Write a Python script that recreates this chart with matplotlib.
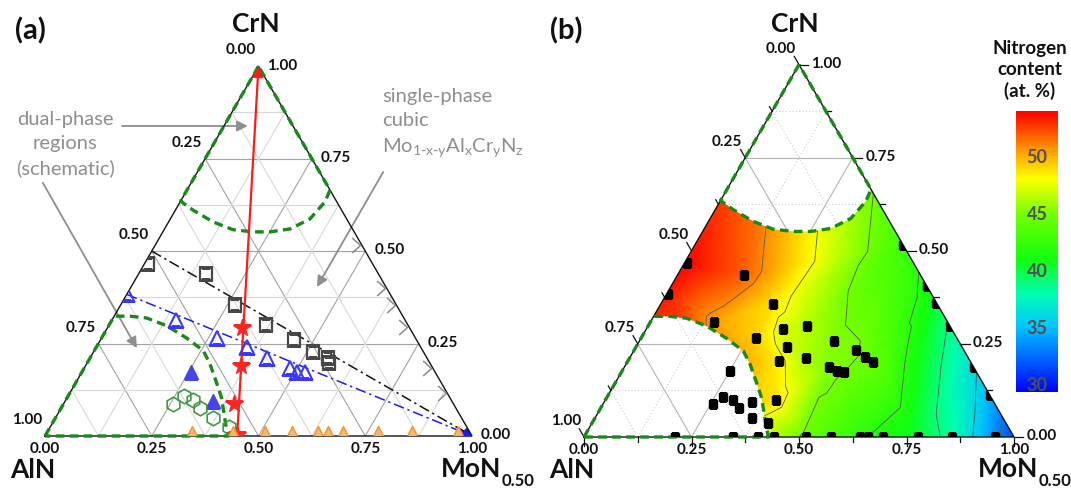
"""Mo-Al-Cr-N ternary maps: (a) sample compositions, (b) nitrogen content."""

import numpy as np
import matplotlib

matplotlib.use("Agg")

import matplotlib.pyplot as plt
import matplotlib.tri as mtri
from matplotlib.colors import LinearSegmentedColormap, Normalize
from matplotlib.patches import Polygon
from matplotlib.path import Path

plt.rcParams["font.family"] = ["Lato", "DejaVu Sans"]

W_PX, H_PX = 1071, 488
H3 = np.sqrt(3) / 2

GREEN = "#178a17"
GREY_TXT = "#8e8e8e"
DARK = "#111111"

# ---------------------------------------------------------------- panel (a)
# compositions as (MoN fraction, CrN fraction); AlN is the rest
SQUARE_MO = [0.008, 0.159, 0.268, 0.368, 0.453, 0.514, 0.557, 0.566]
SQUARE_CR = [0.466, 0.437, 0.354, 0.300, 0.260, 0.228, 0.212, 0.198]
OPEN_TRI_MO = [0.0, 0.150, 0.270, 0.353, 0.414, 0.481, 0.503, 0.522]
OPEN_TRI_CR = [0.383, 0.314, 0.265, 0.241, 0.212, 0.185, 0.174, 0.174]
FILLED_TRI_MO = [0.255, 0.346]
FILLED_TRI_CR = [0.174, 0.094]
HEX_MO = [0.257, 0.272, 0.298, 0.325, 0.369, 0.419]
HEX_CR = [0.086, 0.107, 0.097, 0.075, 0.048, 0.024]
STAR_MO = [0.315, 0.364, 0.400, 0.448]
STAR_CR = [0.292, 0.190, 0.086, 0.003]
ORANGE_MO = [0.344, 0.440, 0.515, 0.578, 0.639, 0.663, 0.698, 0.780, 0.859, 0.967]
CHEVRON_CR = [0.516, 0.400, 0.354, 0.295, 0.184, 0.116]

BLACK_LINE_MO = [0.0, 1.0]
BLACK_LINE_CR = [0.5, 0.0]
BLUE_LINE_MO = [0.0, 1.0]
BLUE_LINE_CR = [0.383, 0.0]
RED_LINE_MO = [0.45, 0.0]
RED_LINE_CR = [0.0, 1.0]

# schematic dual-phase boundaries
CAP_MO = [0.0, 0.041, 0.104, 0.161, 0.211, 0.251, 0.294, 0.327, 0.339, 0.335]
CAP_CR = [0.635, 0.611, 0.579, 0.558, 0.552, 0.552, 0.560, 0.587, 0.633, 0.665]
LOW_MO = [0.0, 0.037, 0.079, 0.136, 0.199, 0.255, 0.288, 0.325, 0.359, 0.387, 0.409, 0.429]
LOW_CR = [0.324, 0.324, 0.319, 0.298, 0.265, 0.231, 0.196, 0.150, 0.107, 0.064, 0.029, 0.0]

# ---------------------------------------------------------------- panel (b)
N_MO = [
    0.006, 0.003, 0.154, 0.262, 0.147, 0.317, 0.268, 0.352, 0.352, 0.369,
    0.411, 0.453, 0.516, 0.546, 0.572, 0.476, 0.500, 0.518, 0.397, 0.409,
    0.252, 0.270, 0.297, 0.256, 0.321, 0.344, 0.366,
    0.484, 0.594, 0.639, 0.701, 0.813, 0.888,
    0.212, 0.347, 0.405, 0.442, 0.516, 0.574, 0.642, 0.660, 0.695, 0.777,
    0.856, 0.956,
]
N_CR = [
    0.468, 0.385, 0.436, 0.356, 0.310, 0.291, 0.265, 0.241, 0.203, 0.299,
    0.211, 0.257, 0.233, 0.214, 0.201, 0.187, 0.176, 0.174, 0.099, 0.037,
    0.176, 0.107, 0.099, 0.088, 0.078, 0.094, 0.051,
    0.516, 0.406, 0.361, 0.299, 0.187, 0.112,
    0.0, 0.0, 0.0, 0.0, 0.0, 0.0, 0.0, 0.0, 0.0, 0.0,
    0.0, 0.0,
]
N_VALUE = [
    54.0, 53.5, 52.0, 48.8, 50.5, 47.3, 49.3, 47.2, 48.5, 46.5,
    46.3, 45.4, 45.2, 44.8, 44.6, 45.3, 45.2, 45.0, 48.8, 47.3,
    51.0, 50.5, 50.0, 50.5, 49.5, 49.5, 48.5,
    43.0, 41.5, 40.3, 38.8, 36.3, 34.5,
    50.5, 49.5, 48.5, 46.8, 44.6, 43.5, 42.3, 42.0, 41.5, 40.3,
    38.3, 33.5,
]
# corner values (AlN, MoN, CrN) used to close the triangulation
CORNER_MO = [0.0, 1.0, 0.0]
CORNER_CR = [0.0, 0.0, 1.0]
CORNER_VALUE = [51.0, 31.5, 50.0]

N_LEVELS = [33, 36, 39, 42, 45, 48, 51]
N_RANGE = (29.4, 54.1)
CBAR_TICKS = [30, 35, 40, 45, 50]
AXIS_TICKS = [0.0, 0.25, 0.5, 0.75, 1.0]

N_CMAP = LinearSegmentedColormap.from_list(
    "nitrogen",
    [
        (0.0, "#0000ff"),
        (0.23, "#00c4ff"),
        (0.35, "#00ffb0"),
        (0.47, "#10ff10"),
        (0.63, "#70ff00"),
        (0.76, "#ffff00"),
        (0.86, "#ff9c00"),
        (1.0, "#ff0000"),
    ],
)


def to_xy(mo, cr):
    mo = np.asarray(mo, dtype=float)
    cr = np.asarray(cr, dtype=float)
    return mo + cr / 2, cr * H3


def setup_panel(fig, left_px, right_px, origin_px, base_py, side_px):
    ax = fig.add_axes([left_px / W_PX, 0, (right_px - left_px) / W_PX, 1])
    ax.set_xlim((left_px - origin_px) / side_px, (right_px - origin_px) / side_px)
    ax.set_ylim((base_py - H_PX) / side_px, base_py / side_px)
    ax.set_axis_off()
    return ax


def draw_grid(ax, fractions, **style):
    for f in fractions:
        for mo, cr in (([0, 1 - f], [f, f]), ([f, f], [0, 1 - f]), ([0, 1 - f], [1 - f, 0])):
            x, y = to_xy(mo, cr)
            ax.plot(x, y, **style)


def triangle_patch(ax):
    x, y = to_xy([0, 1, 0], [0, 0, 1])
    return Polygon(np.column_stack([x, y]), closed=True, fill=False,
                   transform=ax.transData)


def draw_frame(ax):
    x, y = to_xy([0, 1, 0, 0], [0, 0, 1, 0])
    ax.plot(x, y, color=DARK, lw=1.0, zorder=4, solid_joinstyle="miter")


def draw_boundaries(ax):
    cx, cy = to_xy([0.0] + CAP_MO + [0.0], [1.0] + CAP_CR + [1.0])
    lx, ly = to_xy([0.0] + LOW_MO + [0.0], [0.0] + LOW_CR + [0.0])
    for x, y in ((cx, cy), (lx, ly)):
        ax.plot(x, y, color=GREEN, lw=2.4, ls="--", dashes=(2.6, 1.6),
                dash_capstyle="butt", zorder=5)


def edge_labels(ax, right_pad):
    style = dict(textcoords="offset points", fontsize=11, fontweight="bold",
                 color=DARK, annotation_clip=False)
    for t in AXIS_TICKS:
        label = f"{t:.2f}"
        ax.annotate(label, to_xy(0, 1 - t), xytext=(-2, 6.5),
                    ha="right", va="bottom", **style)
        ax.annotate(label, to_xy(1 - t, t), xytext=(right_pad, 0.5),
                    ha="left", va="center", **style)
        ax.annotate(label, to_xy(t, 0), xytext=(0, -4.5),
                    ha="center", va="top", **style)


def fig_text(fig, px, py, s, **kw):
    return fig.text(px / W_PX, 1 - py / H_PX, s, **kw)


def corner_names(fig, crn_px, aln_px, mon_px):
    name = dict(fontsize=19, fontweight="bold", color=DARK)
    fig_text(fig, crn_px, 32, "CrN", ha="center", va="baseline", **name)
    fig_text(fig, aln_px, 478, "AlN", ha="center", va="baseline", **name)
    mon = fig_text(fig, mon_px, 477, "MoN", ha="left", va="baseline", **name)
    fig.axes[0].annotate("0.50", xy=(1.0, 0.0), xycoords=mon, xytext=(0.5, -3.5),
                         textcoords="offset points", ha="left", va="baseline",
                         fontsize=12, fontweight="bold", color=DARK,
                         annotation_clip=False)


fig = plt.figure(figsize=(W_PX / 100, H_PX / 100), dpi=100)
ax_a = setup_panel(fig, 0, 535, 45, 436, 427)
ax_b = setup_panel(fig, 535, 1071, 584, 437, 430)

# ---------------------------------------------------------------- (a)
draw_grid(ax_a, [0.25, 0.5, 0.75], color="#a2a2a2", lw=0.8, zorder=1)
draw_grid(ax_a, [0.125, 0.375, 0.625, 0.875], color="#d8d8d8", lw=0.8, zorder=1)
draw_frame(ax_a)
draw_boundaries(ax_a)
clip_a = triangle_patch(ax_a)

for mo_line, cr_line, color in ((BLACK_LINE_MO, BLACK_LINE_CR, DARK),
                                (BLUE_LINE_MO, BLUE_LINE_CR, "#1a1aff")):
    x, y = to_xy(mo_line, cr_line)
    ax_a.plot(x, y, color=color, lw=1.1, ls=(0, (7, 2.5, 1.5, 2.5)), zorder=5)
    ax_a.annotate("", xy=(x[1], y[1]),
                  xytext=(x[0] + 0.96 * (x[1] - x[0]), y[0] + 0.96 * (y[1] - y[0])),
                  arrowprops=dict(arrowstyle="-|>", color=color, lw=1.1,
                                  mutation_scale=12, shrinkA=0, shrinkB=0),
                  zorder=6)

x, y = to_xy(RED_LINE_MO, RED_LINE_CR)
ax_a.annotate("", xy=(x[1], y[1]), xytext=(x[0], y[0]),
              arrowprops=dict(arrowstyle="-|>", color="#ff1a1a", lw=1.6,
                              mutation_scale=15, shrinkA=0, shrinkB=0),
              zorder=6)

marker_sets = [
    (SQUARE_MO, SQUARE_CR, dict(marker="s", ms=8, mfc="none", mec="#474747", mew=1.6)),
    (OPEN_TRI_MO, OPEN_TRI_CR, dict(marker="^", ms=10.5, mfc="none", mec="#3838ff", mew=1.5)),
    (FILLED_TRI_MO, FILLED_TRI_CR, dict(marker="^", ms=10.5, color="#4444e8")),
    (HEX_MO, HEX_CR, dict(marker="h", ms=10.5, mfc="none", mec="#3f9a3f", mew=1.2)),
    (STAR_MO, STAR_CR, dict(marker="*", ms=13, color="#ff2424")),
    (ORANGE_MO, [0.0] * len(ORANGE_MO),
     dict(marker="^", ms=15, mfc="#f8b868", mec="#ee9430", mew=1.0)),
]
for mo, cr, style in marker_sets:
    x, y = to_xy(mo, cr)
    (line,) = ax_a.plot(x, y, ls="none", zorder=7, **style)
    line.set_clip_path(clip_a)

# open arrow heads on the Al-free edge
chevron = Path([(-1.0, 0.9), (0.0, 0.0), (-1.0, -0.9)],
               [Path.MOVETO, Path.LINETO, Path.LINETO])
x, y = to_xy([1 - c for c in CHEVRON_CR], CHEVRON_CR)
ax_a.plot(x - 0.004, y, ls="none", marker=chevron, ms=12, mfc="none",
          mec="#8a8a8a", mew=1.1, zorder=7)

arrow_style = dict(arrowstyle="-|>", color=GREY_TXT, lw=1.3, mutation_scale=16,
                   shrinkA=0, shrinkB=0)
ax_a.annotate("", xy=(0.475, 0.726), xytext=(0.180, 0.726), arrowprops=arrow_style)
ax_a.annotate("", xy=(0.215, 0.206), xytext=(-0.005, 0.593), arrowprops=arrow_style)
ax_a.annotate("", xy=(0.637, 0.349), xytext=(0.792, 0.618), arrowprops=arrow_style)
ax_a.text(0.047, 0.684, "dual-phase\nregions\n(schematic)", ha="center",
          va="center", fontsize=14.5, color=GREY_TXT, linespacing=1.5)
ax_a.text(0.789, 0.815,
          "single-phase\ncubic\n"
          r"Mo$_{\mathregular{1\text{-}x\text{-}y}}$Al$_{\mathregular{x}}$"
          r"Cr$_{\mathregular{y}}$N$_{\mathregular{z}}$",
          ha="left", va="top", fontsize=14.5, color=GREY_TXT, linespacing=1.5)
edge_labels(ax_a, right_pad=6.5)

# ---------------------------------------------------------------- (b)
draw_grid(ax_b, [0.25, 0.5, 0.75], color="#b4b4b4", lw=0.8, zorder=1)
draw_grid(ax_b, [0.125, 0.375, 0.625, 0.875], color="#cdcdcd", lw=0.8,
          ls=(0, (1, 2)), zorder=1)

tx, ty = to_xy(N_MO + CORNER_MO, N_CR + CORNER_CR)
tri = mtri.Triangulation(tx, ty)
z = np.array(N_VALUE + CORNER_VALUE)
norm = Normalize(*N_RANGE)

rx, ry = to_xy(CAP_MO + [1.0] + LOW_MO[::-1], CAP_CR + [0.0] + LOW_CR[::-1])
region = Polygon(np.column_stack([rx, ry]), closed=True, fill=False,
                 transform=ax_b.transData)
fine_tri, fine_z = mtri.UniformTriRefiner(tri).refine_field(
    z, triinterpolator=mtri.LinearTriInterpolator(tri, z), subdiv=4)
mesh = ax_b.tripcolor(fine_tri, fine_z, shading="gouraud", cmap=N_CMAP,
                      norm=norm, zorder=2)
mesh.set_clip_path(region)
lines = ax_b.tricontour(tri, z, levels=N_LEVELS, colors="#5a5a5a",
                        linewidths=0.6, zorder=3)
lines.set_clip_path(region)

draw_frame(ax_b)
draw_boundaries(ax_b)

for t in np.arange(0, 1.0001, 0.125):
    size = 0.022 if abs(t * 4 - round(t * 4)) < 1e-9 else 0.012
    for (mo, cr), (dx, dy) in (((0, 1 - t), (-0.5, H3)), ((1 - t, t), (1, 0)),
                               ((t, 0), (0, -1))):
        x0, y0 = to_xy(mo, cr)
        ax_b.plot([x0, x0 + size * dx], [y0, y0 + size * dy], color=DARK,
                  lw=0.9, zorder=4, clip_on=False)

clip_b = triangle_patch(ax_b)
x, y = to_xy(N_MO, N_CR)
(squares,) = ax_b.plot(x, y, ls="none", marker="s", ms=5.5, color="black", zorder=7)
squares.set_clip_path(clip_b)
edge_labels(ax_b, right_pad=9)

# ---------------------------------------------------------------- colour bar
cax = fig.add_axes([1016 / W_PX, (H_PX - 392) / H_PX, 42 / W_PX, 281 / H_PX])
cbar = fig.colorbar(plt.cm.ScalarMappable(norm=norm, cmap=N_CMAP), cax=cax)
cbar.outline.set_visible(False)
cbar.set_ticks([])
for v in CBAR_TICKS:
    cax.text(0.5, v, str(v), transform=cax.get_yaxis_transform(), ha="center",
             va="center", fontsize=13, fontweight="bold", color="#505050")
fig_text(fig, 1030, 70, "Nitrogen\ncontent\n(at. %)", ha="center", va="center",
         fontsize=13.5, fontweight="bold", color=DARK, linespacing=1.28)

# ---------------------------------------------------------------- names
fig_text(fig, 30, 31, "(a)", ha="center", va="center", fontsize=21,
         fontweight="bold", color=DARK)
fig_text(fig, 566, 31, "(b)", ha="center", va="center", fontsize=21,
         fontweight="bold", color=DARK)
corner_names(fig, 256, 33, 441)
corner_names(fig, 795, 572, 978)

fig.savefig("out.png", dpi=100)
